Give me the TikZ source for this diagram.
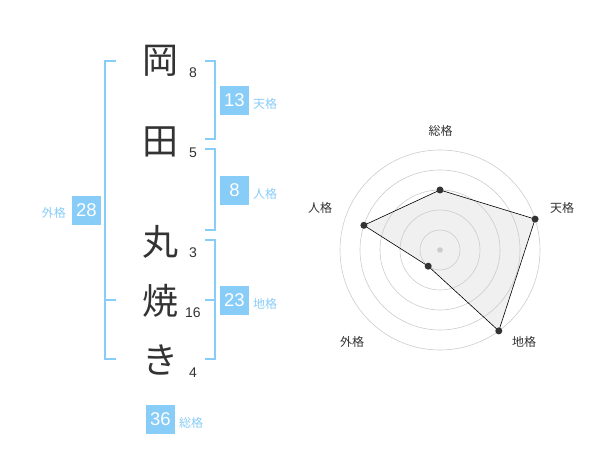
\documentclass[tikz,border=0pt]{standalone}
\usepackage{fontspec}
\setmainfont{Liberation Sans}
\newfontfamily\cjk{Noto Sans CJK JP}
\definecolor{brk}{HTML}{88CCF8}
\definecolor{lbl}{HTML}{88CCF8}
\definecolor{ink}{HTML}{333333}
\definecolor{ring}{HTML}{CCCCCC}
\begin{document}
\begin{tikzpicture}[x=1pt,y=-1pt,
  kanji/.style={font=\cjk\fontsize{36}{36}\selectfont, text=ink, inner sep=0pt},
  stroke/.style={font=\fontsize{14}{14}\selectfont, text=ink, inner sep=0pt},
  valbox/.style={fill=brk, text=white, minimum width=29pt, minimum height=29pt, inner sep=0pt, font=\fontsize{18.5}{18.5}\selectfont},
  kaku/.style={font=\cjk\fontsize{12}{12}\selectfont, text=lbl, inner sep=0pt, anchor=west},
  bracket/.style={draw=brk, line width=2pt},
  axlabel/.style={font=\cjk\fontsize{12}{12}\selectfont, text=ink, inner sep=0pt},
  pt/.style={circle, fill=ink, inner sep=0pt, minimum size=7pt}
]
\useasboundingbox (0,0) rectangle (600,470);
% characters
\node[kanji] (k1) at (160,61) {岡};
\node[kanji] (k2) at (160,142) {田};
\node[kanji] (k3) at (160,242) {丸};
\node[kanji] (k4) at (160,301) {焼};
\node[kanji] (k5) at (160,360) {き};
\node[stroke] (n1) at (193,73) {8};
\node[stroke] (n2) at (193,153) {5};
\node[stroke] (n3) at (193,253) {3};
\node[stroke] (n4) at (193,313) {16};
\node[stroke] (n5) at (193,373) {4};
% brackets
\draw[bracket] (116,61) -- (105,61) -- (105,359) -- (116,359);
\draw[bracket] (105,300) -- (116,300);
\draw[bracket] (205,61) -- (215,61) -- (215,139) -- (205,139);
\draw[bracket] (205,149) -- (215,149) -- (215,230) -- (205,230);
\draw[bracket] (205,240) -- (215,240) -- (215,359) -- (205,359);
\draw[bracket] (205,300) -- (215,300);
% values
\node[valbox] (ten) at (234.5,100.5) {13};
\node[kaku] (tenl) at (253,104) {天格};
\node[valbox] (jin) at (234.5,190.5) {8};
\node[kaku] (jinl) at (253,194) {人格};
\node[valbox] (chi) at (234.5,300.5) {23};
\node[kaku] (chil) at (253,304) {地格};
\node[valbox] (gai) at (86.5,210.5) {28};
\node[kaku, anchor=east] (gail) at (66,213) {外格};
\node[valbox] (sou) at (160.5,419.5) {36};
\node[kaku] (soul) at (179,423) {総格};
% radar
\coordinate (c) at (440,250);
\path (c) ++(0,-60) coordinate (a1)
      (c) ++(95.1,-30.9) coordinate (a2)
      (c) ++(58.8,80.9) coordinate (a3)
      (c) ++(-11.8,16.2) coordinate (a4)
      (c) ++(-76.1,-24.7) coordinate (a5);
\fill[black!6] (a1) -- (a2) -- (a3) -- (a4) -- (a5) -- cycle;
\foreach \r in {20,40,60,80,100} \draw[ring, line width=0.6pt] (c) circle (\r);
\fill[ring] (c) circle (2.8);
\draw[black, line width=0.6pt] (a1) -- (a2) -- (a3) -- (a4) -- (a5) -- cycle;
\foreach \i in {1,...,5} \node[pt] at (a\i) {};
\node[axlabel] (l1) at (440.7,131) {総格};
\node[axlabel] (l2) at (562,208) {天格};
\node[axlabel] (l3) at (524,342) {地格};
\node[axlabel] (l4) at (352,342) {外格};
\node[axlabel] (l5) at (320,208) {人格};
\end{tikzpicture}
\end{document}
